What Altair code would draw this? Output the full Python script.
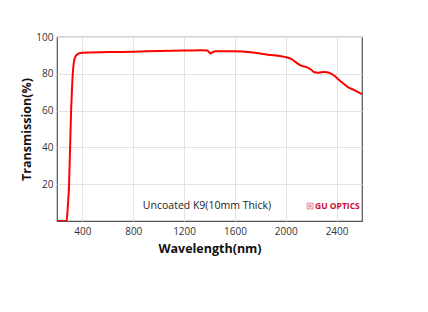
import altair as alt
import pandas as pd

wavelength = [200, 276, 285, 295, 303, 311, 318, 324, 332, 342, 360, 382, 400, 600, 800, 1000,
              1200, 1330, 1383, 1400, 1409, 1425, 1449, 1594, 1726, 1858, 1989, 2042, 2081,
              2121, 2168, 2200, 2226, 2250, 2279, 2310, 2340, 2372, 2424, 2490, 2543, 2600]
transmission = [0, 0, 8, 20, 40, 60, 72, 80, 86, 89, 90.6, 91.3, 91.5, 91.8, 92.0, 92.4,
                92.6, 92.8, 92.6, 91.5, 91.1, 91.8, 92.2, 92.2, 91.7, 90.4, 89.2, 88.1, 86.2,
                84.4, 83.5, 82.2, 80.8, 80.6, 80.9, 81.0, 80.6, 79.5, 76.4, 72.8, 71.0, 69.0]
x_ticks = [400, 800, 1200, 1600, 2000, 2400]
y_ticks = [20, 40, 60, 80, 100]

caption = ["Uncoated K9(10mm Thick)"]
brand = ["GU OPTICS"]

df = pd.DataFrame({"w": wavelength, "t": transmission})

x = alt.X("w:Q", scale=alt.Scale(domain=[200, 2600], nice=False, zero=False),
          axis=alt.Axis(values=x_ticks, format="d", title="Wavelength(nm)", grid=True, ticks=False,
                        domain=False, labelPadding=5, labelFontSize=10, labelColor="#333",
                        titleFontSize=12.5, titleFontWeight="bold", titleColor="#111",
                        titlePadding=6, labelFont="Open Sans", titleFont="Open Sans",
                        gridColor="#e2e2e2"))
y = alt.Y("t:Q", scale=alt.Scale(domain=[0, 100], nice=False),
          axis=alt.Axis(values=y_ticks, format="d", title="Transmission(%)", grid=True, ticks=False,
                        domain=False, labelPadding=4, labelFontSize=10, labelColor="#333",
                        titleFontSize=12.5, titleFontWeight="bold", titleColor="#111",
                        titlePadding=2, labelFont="Open Sans", titleFont="Open Sans",
                        gridColor="#e2e2e2"))

line = alt.Chart(df).mark_line(color="#ff0000", strokeWidth=2, clip=True,
                               interpolate="monotone").encode(x=x, y=y)

cap = alt.Chart(pd.DataFrame({"label": caption})).mark_text(
    font="Open Sans", fontSize=10.5, color="#222", align="center", baseline="middle"
).encode(text="label:N", x=alt.value(150), y=alt.value(169))

logo = alt.Chart(pd.DataFrame({"label": brand})).mark_text(
    font="Open Sans", fontSize=8.5, fontWeight="bold", color="#c8102e", align="left",
    baseline="middle"
).encode(text="label:N", x=alt.value(258), y=alt.value(169))

logo_outer = alt.Chart(pd.DataFrame({"label": brand})).mark_point(
    shape="square", filled=True, size=45, color="#e0607a"
).encode(x=alt.value(253), y=alt.value(169))
logo_inner = alt.Chart(pd.DataFrame({"label": brand})).mark_point(
    shape="circle", filled=False, size=18, color="white", strokeWidth=1.2
).encode(x=alt.value(253), y=alt.value(169))

chart = alt.layer(line, cap, logo_outer, logo_inner, logo).properties(
    width=305, height=184,
    autosize=alt.AutoSizeParams(type="none"),
    padding={"left": 57, "top": 37, "right": 66, "bottom": 91},
    background="white",
).configure_view(stroke="#555", strokeWidth=1.2)

chart.save("out.html", embed_options={"renderer": "svg", "actions": False})
